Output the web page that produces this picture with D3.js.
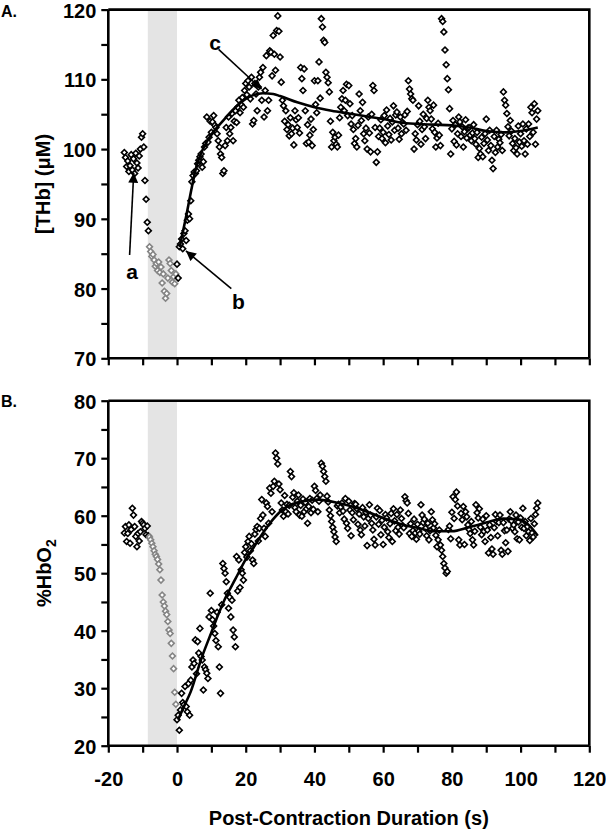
<!DOCTYPE html>
<html><head><meta charset="utf-8">
<script src="https://cdn.jsdelivr.net/npm/d3@7"></script>
<style>body{margin:0;background:#fff}svg{display:block}</style>
</head><body>
<script>
// ---------- data ----------
const STEP = 1/3;                       // sample interval (s)
const preStart = -15.333, contractionStart = -8, postStart = 0;
const contractionBand = [-8.5, 0];

const xTickValues = [-20,-10,0,10,20,30,40,50,60,70,80,90,100,110,120];
const xTickLabels = [-20,0,20,40,60,80,100,120];
const yTicksA = [70,75,80,85,90,95,100,105,110,115,120];
const yLabelsA = [70,80,90,100,110,120];
const yTicksB = [20,25,30,35,40,45,50,55,60,65,70,75,80];
const yLabelsB = [20,30,40,50,60,70,80];

// Panel A : [THb]
const thbPre = [99.5,98.8,97.5,98.3,96.8,97.6,99.2,97.0,98.6,96.5,99.4,98.0,97.3,99.0,100.0,101.7,102.2,100.3,95.5,92.8,89.5,88.3];
const thbContraction = [86.0,85.3,84.6,84.9,84.1,83.2,83.6,82.6,83.8,82.3,83.1,80.8,82.1,79.6,78.6,79.3,81.5,84.1,83.6,82.6,80.9,81.7,80.7,82.1];
const thbPost = [
83.5,81.5,86.0, 86.4,87.1,85.7, 87.9,88.3,86.9, 89.8,90.7,90.0, 92.6,95.3,96.2,
96.7,96.5,96.9, 97.9,98.4,98.9, 99.3,97.4,98.2, 100.3,100.8,104.6, 101.0,101.7,104.0,
102.4,103.9,104.8, 103.4,103.1,102.2, 101.2,100.3,99.3, 98.8,96.5,96.9, 100.5,103.1,101.2,
104.6,102.2,103.1, 105.1,101.2,104.0, 105.5,103.8,106.0, 107.0,105.2,106.4, 107.4,106.0,108.4,
109.4,107.8,109.8, 108.9,107.2,110.3, 103.6,104.1,109.4, 107.9,105.5,108.9, 110.3,111.0,107.0,
111.7,104.6,108.4, 113.4,105.5,107.0, 114.1,113.9,110.5, 116.3,113.6,111.3, 117.0,119.1,116.9,
113.2,109.6,107.0, 106.2,104.0,105.5, 102.8,103.5,101.9, 104.5,102.2,103.0, 100.6,105.5,104.2,
103.1,104.5,102.3, 111.7,110.1,108.4, 111.5,105.5,100.8, 103.5,101.0,102.0, 104.3,100.5,102.8,
109.8,106.4,105.2, 109.8,112.5,107.3, 118.7,117.5,115.6, 115.3,111.0,110.3, 109.5,108.2,104.0,
100.3,102.4,101.2, 101.7,100.7,100.3, 102.0,104.5,106.0, 107.2,108.4,105.5, 107.0,109.3,104.8,
109.1,106.5,103.6, 104.8,102.8,100.8, 101.5,100.3,103.4, 107.9,105.5,104.1, 106.7,102.2,101.2,
103.0,100.0,104.6, 102.3,99.6,105.0, 109.1,108.4,103.1, 98.1,99.6,101.8, 103.0,104.2,101.5,
102.4,104.8,100.9, 105.6,103.3,102.1, 104.4,101.3,103.9, 106.2,102.7,104.9, 105.3,103.0,101.4,
104.6,102.2,103.8, 103.6,104.9,102.7, 105.4,109.8,108.6, 107.9,107.2,107.0, 100.0,102.2,101.3,
103.5,106.2,104.0, 100.7,102.8,105.0, 103.2,101.5,104.4, 107.0,106.0,105.5, 104.3,102.9,106.3,
102.4,100.3,101.6, 103.7,102.0,100.5, 118.7,118.3,116.8, 114.2,112.1,110.1, 108.5,105.8,99.3,
102.9,104.1,101.1, 103.5,100.6,102.2, 104.6,103.9,101.8, 103.2,100.3,102.5, 104.2,101.6,103.0,
103.1,102.0,101.2, 102.3,103.5,101.5, 100.7,102.4,98.8, 100.1,99.3,101.7, 98.9,100.8,102.2,
104.3,101.3,99.8, 102.7,100.5,98.4, 97.2,101.8,99.5, 102.7,100.3,101.4, 100.9,102.1,99.8,
108.2,107.0,106.3, 105.1,103.2,101.9, 104.1,102.6,100.8, 99.8,101.5,100.2, 99.3,103.3,101.0,
102.2,100.4,103.6, 101.2,99.3,102.9, 100.7,103.6,101.8, 106.0,105.2,102.4, 106.5,100.7,104.3,
105.5];
const thbFitT = [0.8,2.8,4.3,5.7,7,8.6,10,12,14,17,20,22,25,28,30,35,40,45,50,55,60,65,70,75,80,85,90,95,100,105];
const thbFitV = [86,90.7,94.5,97.6,99.4,101,102.1,103.3,104.4,106,107.2,107.7,108,107.9,107.6,106.7,106,105.5,105.1,104.7,104.3,103.8,103.6,103.5,103.4,103.1,102.6,102.4,102.6,103.1];

// annotations on panel A (data coordinates)
const annotText = ["a","b","c"];
const annotLabelPos = [[-13.1,82.4],[17.9,78.2],[11.1,115.3]];
const annotTail = [[-13.8,84.8],[15.8,80.0],[12.1,114.3]];
const annotTip = [[-12.6,96.6],[2.6,85.4],[24.6,108.6]];

// Panel B : %HbO2
const hbo2Pre = [57.0,58.1,55.5,56.9,58.4,55.2,57.6,61.3,60.1,58.1,56.4,54.6,56.9,55.6,57.2,59.0,58.7,58.4,57.8,56.7,58.2,56.5];
const hbo2Contraction = [56.3,55.8,55.2,54.6,53.9,53.3,52.9,52.4,51.6,50.6,48.8,46.2,45.0,44.3,43.4,42.8,41.6,40.1,39.5,37.8,35.6,33.4,29.3,27.2];
const hbo2Post = [
24.5,25.3,22.7, 26.2,29.1,27.5, 27.1,30.3,26.8, 25.9,30.8,25.3, 31.4,33.7,34.9,
34.3,38.4,32.5, 38.1,36.1,40.4, 35.5,34.9,29.7, 33.7,33.2,32.6, 31.7,42.4,46.5,
43.5,41.9,40.8, 39.5,38.3,43.2, 37.2,33.7,29.1, 44.5,51.7,50.8, 50.0,48.5,46.5,
43.9,45.8,42.4, 45.3,40.1,38.9, 37.2,52.9,46.9, 52.3,47.5,50.6, 50.0,48.8,53.6,
54.6,52.8,55.5, 56.4,53.9,55.1, 52.3,51.7,56.8, 57.6,58.1,55.6, 57.8,59.5,62.8,
60.1,57.8,56.4, 62.2,61.6,58.7, 64.8,63.9,60.7, 65.1,66.0,70.9, 70.0,69.0,65.5,
64.5,62.2,61.0, 59.9,63.5,60.7, 62.0,60.3,61.8, 67.7,66.8,63.2, 64.0,61.4,60.7,
62.5,63.6,60.1, 61.8,59.9,62.9, 60.7,62.3,61.2, 58.7,61.6,63.0, 60.5,62.7,61.1,
65.1,64.4,63.0, 60.7,62.5,63.6, 69.1,68.6,67.7, 66.8,66.0,63.4, 62.4,61.0,60.0,
59.0,58.0,57.2, 56.3,55.5,61.7, 62.0,60.5,61.5, 62.2,60.8,59.4, 63.0,58.7,57.8,
62.5,61.0,56.5, 60.5,59.3,62.1, 62.0,61.2,58.5, 60.3,57.5,56.7, 61.4,59.8,58.2,
60.6,54.8,59.5, 61.9,60.1,58.7, 57.5,55.9,54.9, 59.8,61.3,58.5, 60.9,56.7,59.2,
55.0,58.0,60.2, 59.6,57.2,56.2, 58.6,60.4,55.5, 61.2,59.1,57.4, 60.2,58.0,56.8,
61.0,59.5,58.3, 57.9,63.3,62.6, 62.2,60.4,56.9, 58.6,56.4,57.4, 59.4,57.0,55.9,
58.5,57.3,56.8, 61.9,60.1,58.8, 59.4,57.8,56.5, 58.7,55.8,57.4, 60.7,59.3,57.9,
58.6,56.6,54.6, 55.8,57.5,54.9, 54.0,52.9,51.7, 50.9,50.0,50.3, 57.6,58.2,56.0,
60.6,63.3,59.5, 62.8,64.1,61.7, 55.8,54.9,60.4, 59.3,61.6,55.0, 60.7,59.8,58.4,
57.6,56.9,59.0, 55.8,54.9,57.3, 61.9,60.5,59.6, 61.2,58.0,56.7, 59.4,57.3,55.5,
60.0,57.5,53.5, 58.4,56.2,54.2, 53.3,57.9,60.2, 59.0,56.5,58.8, 60.1,54.0,53.3,
58.8,57.4,55.3, 57.5,53.8,59.4, 60.7,59.1,57.8, 58.4,57.2,60.1, 56.0,58.9,55.8,
59.6,58.0,61.3, 57.8,59.0,56.5, 58.1,57.2,55.7, 59.5,57.0,56.3, 58.6,60.2,61.3,
62.2];
const hbo2FitT = [0.3,2,4,7,10,12,14,17,20,22,25,28,30,35,41,47,54,60,66,70,75,80,85,90,95,100,103,105];
const hbo2FitV = [24.5,26.8,29.4,35,39.7,42.8,45.6,49,52.4,54.2,57,59.4,60.7,62.3,62.8,62.2,61,59.6,58.4,57.9,57.3,57.3,58,58.8,59.5,59.3,58,56.5];

// ---------- drawing ----------
const W = 606, H = 830;
const FONT = "'Liberation Sans', Arial, Helvetica, sans-serif";
const svg = d3.select("body").append("svg").attr("width", W).attr("height", H)
  .style("font-family", FONT);

const x = d3.scaleLinear([-20, 120], [108.3, 589.3]);
const yA = d3.scaleLinear([70, 120], [358.3, 9.6]);
const yB = d3.scaleLinear([20, 80], [745.7, 400.7]);

svg.append("defs").append("marker")
  .attr("id", "arrowhead").attr("viewBox", "0 0 10 10")
  .attr("refX", 10).attr("refY", 5)
  .attr("markerWidth", 12).attr("markerHeight", 10)
  .attr("markerUnits", "userSpaceOnUse").attr("orient", "auto")
  .append("path").attr("d", "M0,0L10,5L0,10Z").attr("fill", "#000");

const toPts = (arr, start) => arr.map((v, i) => ({t: start + i * STEP, v}));
const diamond = d3.symbol().type(d3.symbolSquare).size(17);

function panel(y, yTicks, yLabels, pre, contraction, post, fitT, fitV, showXLabels) {
  const g = svg.append("g");
  const [x0, x1] = x.range();
  const [yb, yt] = y.range();
  // contraction band
  g.append("rect")
    .attr("x", x(contractionBand[0])).attr("y", yt)
    .attr("width", x(contractionBand[1]) - x(contractionBand[0]))
    .attr("height", yb - yt).attr("fill", "#e4e4e4");

  const drawPts = (data, color) => {
    g.append("g").selectAll("path").data(data).join("path")
      .attr("d", diamond)
      .attr("transform", d => `translate(${x(d.t)},${y(d.v)}) rotate(45)`)
      .attr("fill", "#fff").attr("stroke", color).attr("stroke-width", 1.6);
  };
  drawPts(toPts(pre, preStart), "#000");
  drawPts(toPts(contraction, contractionStart), "#858585");
  drawPts(toPts(post, postStart), "#000");

  // fitted curve
  const fit = fitT.map((t, i) => [t, fitV[i]]);
  g.append("path").datum(fit)
    .attr("d", d3.line().x(d => x(d[0])).y(d => y(d[1])).curve(d3.curveMonotoneX))
    .attr("fill", "none").attr("stroke", "#000").attr("stroke-width", 2.6);

  // frame (top & right)
  g.append("path").attr("d", `M${x0},${yt}H${x1}V${yb}`)
    .attr("fill", "none").attr("stroke", "#000").attr("stroke-width", 2.6);

  // axes
  const ax = g.append("g").attr("transform", `translate(0,${yb})`)
    .call(d3.axisBottom(x).tickValues(xTickValues).tickSize(7).tickPadding(19)
      .tickFormat(d => showXLabels && xTickLabels.includes(d) ? d : ""));
  const ay = g.append("g").attr("transform", `translate(${x0},0)`)
    .call(d3.axisLeft(y).tickValues(yTicks).tickSize(7).tickPadding(5)
      .tickFormat(d => yLabels.includes(d) ? d : ""));
  [ax, ay].forEach(a => {
    a.select(".domain").attr("stroke-width", 2.6);
    a.selectAll(".tick line").attr("stroke-width", 2.2);
    a.selectAll("text").attr("font-size", 20).attr("font-weight", "bold")
      .attr("font-family", FONT).attr("fill", "#000");
  });
  ay.selectAll(".tick text").attr("dy", "0.38em");
  ay.select(".domain").attr("d", `M-0,${yt}V${yb}`);
  ax.select(".domain").attr("d", `M${x0},0H${x1}`);
  return g;
}

panel(yA, yTicksA, yLabelsA, thbPre, thbContraction, thbPost, thbFitT, thbFitV, false);
panel(yB, yTicksB, yLabelsB, hbo2Pre, hbo2Contraction, hbo2Post, hbo2FitT, hbo2FitV, true);

// annotations a, b, c
const ann = svg.append("g");
annotText.forEach((s, i) => {
  ann.append("line")
    .attr("x1", x(annotTail[i][0])).attr("y1", yA(annotTail[i][1]))
    .attr("x2", x(annotTip[i][0])).attr("y2", yA(annotTip[i][1]))
    .attr("stroke", "#000").attr("stroke-width", 1.6)
    .attr("marker-end", "url(#arrowhead)");
  ann.append("text")
    .attr("x", x(annotLabelPos[i][0])).attr("y", yA(annotLabelPos[i][1]))
    .attr("text-anchor", "middle").attr("dominant-baseline", "central")
    .attr("font-size", 21).attr("font-weight", "bold").text(s);
});

// panel letters
svg.append("text").attr("x", 1).attr("y", 17).attr("font-size", 16)
  .attr("font-weight", "bold").text("A.");
svg.append("text").attr("x", 1).attr("y", 407).attr("font-size", 16)
  .attr("font-weight", "bold").text("B.");

// axis titles
svg.append("text")
  .attr("transform", `translate(50,${(yA.range()[0] + yA.range()[1]) / 2}) rotate(-90)`)
  .attr("text-anchor", "middle").attr("font-size", 20).attr("font-weight", "bold")
  .text("[THb] (\u03bcM)");
const tB = svg.append("text")
  .attr("transform", `translate(51,${(yB.range()[0] + yB.range()[1]) / 2}) rotate(-90)`)
  .attr("text-anchor", "middle").attr("font-size", 20).attr("font-weight", "bold");
tB.append("tspan").text("%HbO");
tB.append("tspan").attr("font-size", 14).attr("dy", 5).text("2");

svg.append("text")
  .attr("x", (x.range()[0] + x.range()[1]) / 2).attr("y", 825)
  .attr("text-anchor", "middle").attr("font-size", 20).attr("font-weight", "bold")
  .text("Post-Contraction Duration (s)");
</script>
</body></html>
